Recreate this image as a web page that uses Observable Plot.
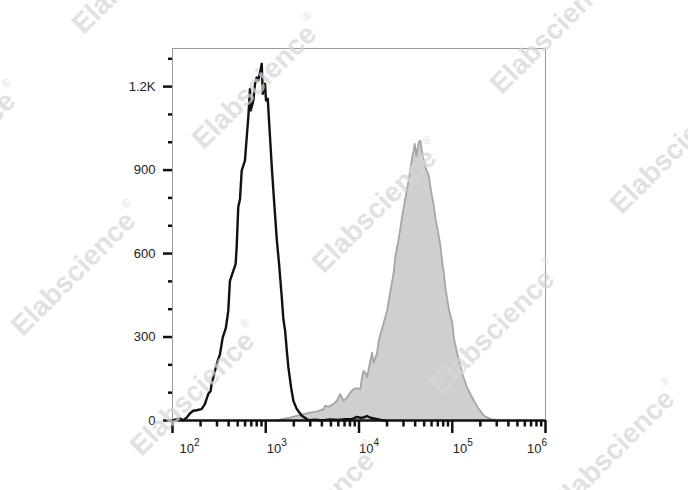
<!DOCTYPE html>
<html>
<head>
<meta charset="utf-8">
<script src="https://cdn.jsdelivr.net/npm/d3@7"></script>
<script src="https://cdn.jsdelivr.net/npm/@observablehq/plot@0.6"></script>
<style>
  body { margin: 0; background: #fff; }
  #wrap { position: relative; width: 688px; height: 490px; overflow: hidden; font-family: "Liberation Sans", Arial, sans-serif; }
  #wrap svg { position: absolute; left: 0; top: 0; }
  .wm { position: absolute; font-size: 28px; font-weight: bold; color: #d6d6d6; opacity: 0.72; white-space: nowrap;
        transform: translate(-50%, -50%) rotate(-45deg); pointer-events: none; font-family: "Liberation Sans", Arial, sans-serif; }
  .wm sup { font-size: 11px; font-weight: normal; vertical-align: top; position: relative; top: -3px; margin-left: 2px; }
</style>
</head>
<body>
<div id="wrap"></div>
<script>
// ---- data (x in log10 fluorescence units, y = event count) ----
const controlLog = [2.0, 2.078, 2.114, 2.151, 2.186, 2.222, 2.258, 2.312, 2.347, 2.383, 2.409, 2.419, 2.455, 2.490, 2.509, 2.538, 2.573, 2.598, 2.616, 2.652, 2.677, 2.688, 2.705, 2.724, 2.742, 2.777, 2.796, 2.813, 2.831, 2.839, 2.867, 2.885, 2.903, 2.920, 2.939, 2.957, 2.968, 2.992, 3.003, 3.022, 3.035, 3.046, 3.065, 3.089, 3.118, 3.143, 3.172, 3.189, 3.208, 3.226, 3.243, 3.272, 3.297, 3.333, 3.387, 3.458, 3.530, 3.605, 3.692, 3.777, 3.853, 3.925, 3.978, 4.014, 4.049, 4.086, 4.122, 4.194, 4.25, 4.28];
const controlCount = [0, 8, 1, 10, 25, 35, 37, 41, 59, 95, 106, 131, 178, 220, 238, 298, 334, 394, 502, 538, 562, 622, 766, 796, 898, 934, 1018, 1090, 1192, 1114, 1150, 1210, 1233, 1222, 1251, 1282, 1174, 1210, 1150, 1156, 1078, 1018, 910, 790, 652, 562, 442, 364, 322, 250, 190, 118, 70, 41, 17, 1, 3, 0, 4, 2, 5, 5, 13, 10, 11, 16, 10, 5, 1, 0];

const stainedLog = [3.118, 3.172, 3.261, 3.333, 3.404, 3.476, 3.548, 3.619, 3.638, 3.673, 3.727, 3.763, 3.799, 3.834, 3.871, 3.906, 3.942, 3.978, 4.014, 4.032, 4.049, 4.068, 4.086, 4.122, 4.140, 4.157, 4.194, 4.211, 4.229, 4.265, 4.301, 4.337, 4.372, 4.391, 4.426, 4.462, 4.498, 4.533, 4.552, 4.570, 4.587, 4.598, 4.616, 4.641, 4.659, 4.677, 4.695, 4.713, 4.748, 4.767, 4.785, 4.802, 4.820, 4.839, 4.874, 4.893, 4.910, 4.928, 4.963, 5.000, 5.017, 5.054, 5.108, 5.161, 5.232, 5.286, 5.340, 5.412, 5.484];
const stainedCount = [0, 5, 10, 17, 23, 28, 32, 41, 53, 49, 59, 71, 95, 71, 82, 100, 113, 116, 113, 154, 178, 171, 157, 214, 244, 207, 243, 286, 308, 351, 394, 466, 531, 592, 653, 732, 801, 862, 905, 945, 970, 994, 952, 1000, 1006, 964, 934, 910, 880, 838, 802, 772, 725, 693, 628, 567, 531, 473, 401, 351, 297, 240, 168, 117, 71, 41, 17, 5, 0];

const yMajorTicks = [0, 300, 600, 900, 1200];
const yTickLabels = ["0", "300", "600", "900", "1.2K"];
const xDecades = [2, 3, 4, 5, 6];
const xExponents = ["2", "3", "4", "5", "6"];
const watermarkText = "Elabscience";

// ---- build tables ----
const control = controlLog.map((l, i) => ({x: 10 ** l, y: controlCount[i]}));
const stained = stainedLog.map((l, i) => ({x: 10 ** l, y: stainedCount[i]}));
const xMajor = xDecades.map(k => 10 ** k);
const xMinor = [];
for (const k of xDecades.slice(0, -1)) for (let m = 2; m <= 9; m++) xMinor.push(m * 10 ** k);
const yMinor = d3.range(0, 1400, 100).filter(v => v % 300 !== 0);

// per-label horizontal nudges (layout)
const baseDx = [7, 1, 0, 0.5, -4];
const baseAnchor = ["start", "start", "start", "start", "end"];
const expDx = [21.5, 15.5, 14.5, 15, 1.5];
const expAnchor = ["start", "start", "start", "start", "end"];

const labelMarks = xMajor.flatMap((v, i) => [
  Plot.text([v], {x: d => d, text: () => "10", frameAnchor: "bottom", lineAnchor: "top",
    dy: 23, dx: baseDx[i], textAnchor: baseAnchor[i], fontSize: 13, fill: "#222"}),
  Plot.text([v], {x: d => d, text: () => xExponents[i], frameAnchor: "bottom", lineAnchor: "top",
    dy: 18, dx: expDx[i], textAnchor: expAnchor[i], fontSize: 10, fill: "#222"})
]);

const chart = Plot.plot({
  width: 688,
  height: 490,
  marginLeft: 172,
  marginRight: 143,
  marginTop: 48,
  marginBottom: 70,
  style: {fontFamily: "'Liberation Sans', Arial, sans-serif", background: "transparent", overflow: "visible"},
  x: {type: "log", domain: [100, 1e6], label: null},
  y: {domain: [0, 1337], label: null},
  marks: [
    Plot.areaY(stained, {x: "x", y: "y", fill: "#cfcfcf"}),
    Plot.lineY(stained, {x: "x", y: "y", stroke: "#a6a6a6", strokeWidth: 1.8}),
    Plot.frame({stroke: "#9a9a9a", strokeWidth: 1}),
    Plot.lineY(control, {x: "x", y: "y", stroke: "#111", strokeWidth: 2.4}),
    Plot.ruleY([0], {stroke: "#111", strokeWidth: 2.5}),
    Plot.axisY(yMinor, {tickSize: 4, tickFormat: () => "", stroke: "#111", strokeWidth: 2.5, label: null}),
    Plot.axisY(yMajorTicks, {tickSize: 9, tickPadding: 8, stroke: "#111", strokeWidth: 2.5, fill: "#222", fontSize: 13,
      tickFormat: d => yTickLabels[yMajorTicks.indexOf(d)], label: null}),
    Plot.axisX(xMinor, {tickSize: 6.5, tickFormat: () => "", stroke: "#111", strokeWidth: 2.5, label: null}),
    Plot.axisX(xMajor, {tickSize: 13, tickFormat: () => "", stroke: "#111", strokeWidth: 2.5, label: null}),
    ...labelMarks
  ]
});

const wrap = document.getElementById("wrap");
wrap.appendChild(chart);

// watermark overlay (decoration; centres in page pixels)
const wmCentres = [[138, -32], [258, 83], [378, 207], [496, 328], [616, 448], [-43, 150], [77, 270], [196, 390], [316, 510], [556, 28], [676, 148]];
for (const [cx, cy] of wmCentres) {
  const s = document.createElement("div");
  s.className = "wm";
  s.style.left = cx + "px";
  s.style.top = cy + "px";
  s.innerHTML = watermarkText + "<sup>®</sup>";
  wrap.appendChild(s);
}
</script>
</body>
</html>
